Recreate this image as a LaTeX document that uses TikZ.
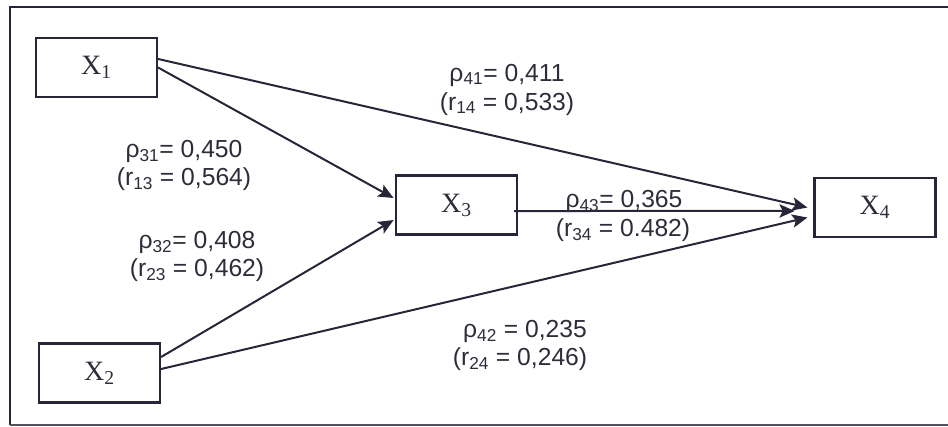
\documentclass[tikz,border=0pt]{standalone}
\usepackage{fontspec}
\setmainfont{Liberation Serif}
\newfontfamily\labfont{Liberation Sans}
\usetikzlibrary{arrows.meta}
\definecolor{ink}{RGB}{38,38,56}
\definecolor{txt}{RGB}{45,45,58}
\begin{document}
\begin{tikzpicture}[x=0.75pt,y=-0.75pt,
  var/.style={draw=ink,line width=1.6pt,minimum width=90.75pt,minimum height=44.25pt,inner sep=0pt,
    font=\fontsize{21}{23}\selectfont,text=txt},
  lab/.style={anchor=base,inner sep=0pt,font=\labfont\fontsize{18.5}{20}\selectfont,text=txt},
  conn/.style={draw=ink,line width=1.5pt,-{Stealth[length=11.5pt,width=10pt,inset=2.5pt]}}]
\useasboundingbox (0,0) rectangle (948,426);
\draw[ink,line width=1.6pt] (10,425) -- (10,7) -- (952,7);
\draw[ink!80,line width=1.4pt] (10,425) -- (952,425);
\node[var] (x1) at (96.5,67.5) {X\textsubscript{1}};
\node[var] (x2) at (99.5,373) {X\textsubscript{2}};
\node[var] (x3) at (456.5,205) {X\textsubscript{3}};
\node[var] (x4) at (875,207.5) {X\textsubscript{4}};
\draw[conn] ([yshift=6.4pt]x1.east) -- ([xshift=-4.5pt]x4.west);
\draw[conn] (x1.east) -- ([xshift=-1pt,yshift=5.25pt]x3.west);
\draw[conn] ([yshift=12pt]x2.east) -- ([xshift=-1pt,yshift=-11.25pt]x3.west);
\draw[conn] ([yshift=3pt]x2.east) -- ([xshift=-4.5pt,yshift=-7.5pt]x4.west);
\draw[conn] ([xshift=-3pt,yshift=-4.5pt]x3.east) -- ([xshift=-14pt,yshift=-2.6pt]x4.west);
\node[lab] (p41) at (507,81) {ρ\textsubscript{41}= 0,411};
\node[lab] (r14) at (507,110) {(r\textsubscript{14} = 0,533)};
\node[lab] (p31) at (184,157) {ρ\textsubscript{31}= 0,450};
\node[lab] (r13) at (184,185) {(r\textsubscript{13} = 0,564)};
\node[lab] (p32) at (197,248) {ρ\textsubscript{32}= 0,408};
\node[lab] (r23) at (197,276) {(r\textsubscript{23} = 0,462)};
\node[lab] (p43) at (624,207) {ρ\textsubscript{43}= 0,365};
\node[lab] (r34) at (623,236) {(r\textsubscript{34} = 0.482)};
\node[lab] (p42) at (525,337) {ρ\textsubscript{42} = 0,235};
\node[lab] (r24) at (520,365) {(r\textsubscript{24} = 0,246)};
\end{tikzpicture}
\end{document}
